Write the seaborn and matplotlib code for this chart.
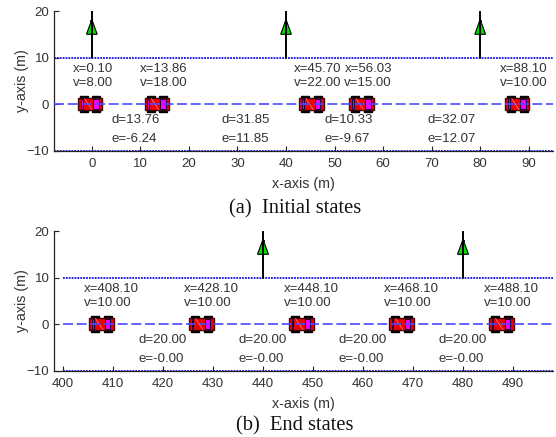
import matplotlib
matplotlib.use("Agg")
import matplotlib.pyplot as plt
from matplotlib.patches import Rectangle, Polygon
import seaborn as sns

W, H = 556, 437

# initial states
car_x_a = [0.10, 13.86, 45.70, 56.03, 88.10]
car_v_a = [8.00, 18.00, 22.00, 15.00, 10.00]
gap_d_a = [13.76, 31.85, 10.33, 32.07]
gap_e_a = [-6.24, 11.85, -9.67, 12.07]
tree_x_a = [0, 40, 80]
xticks_a = [0, 10, 20, 30, 40, 50, 60, 70, 80, 90]

# end states
car_x_b = [408.10, 428.10, 448.10, 468.10, 488.10]
car_v_b = [10.00, 10.00, 10.00, 10.00, 10.00]
gap_d_b = [20.00, 20.00, 20.00, 20.00]
gap_e_b = [-0.00, -0.00, -0.00, -0.00]
tree_x_b = [440, 480]
xticks_b = [400, 410, 420, 430, 440, 450, 460, 470, 480, 490]

yticks = [-10, 0, 10, 20]
TXT = "#333333"

sns.set_theme(style="ticks")
plt.rcParams["font.family"] = ["Liberation Sans", "DejaVu Sans"]


def draw_car(ax, x):
    # body, wheels, windows, all relative to the car position
    for dx in (-2.6, 0.0):
        ax.add_patch(Rectangle((x + dx, -1.75), 1.65, 3.5, fc="black", ec="black", lw=1.0, zorder=3))
    ax.add_patch(Rectangle((x - 3.0, -1.25), 5.05, 2.5, fc="#f00000", ec="#400808", lw=1.0, zorder=4))
    ax.plot([x - 1.6, x - 0.1], [1.2, -1.2], color="#ff9090", lw=0.5, zorder=5)
    ax.add_patch(Rectangle((x - 2.4, -1.15), 0.4, 2.3, fc="#e000e0", ec="#200040", lw=0.8, zorder=5))
    ax.add_patch(Rectangle((x + 0.2, -1.15), 1.2, 2.3, fc="#ff00ff", ec="#200040", lw=0.8, zorder=5))


def draw_tree(ax, x):
    ax.add_patch(Polygon([(x - 1.1, 15), (x + 1.1, 15), (x, 18.2)], closed=True,
                         fc="#00dc00", ec="black", lw=0.8, zorder=3))
    ax.add_patch(Rectangle((x - 0.3, 17.3), 0.6, 0.7, fc="#202020", ec="none", zorder=4))
    sns.lineplot(x=[x, x], y=[10, 20], ax=ax, color="black", lw=1.4, estimator=None, sort=False, zorder=4)


def panel(top, xlim, lane_x0, car_x, car_v, gap_d, gap_e, tree_x, xticks, caption, cap_x, cap_y):
    height = 139.7
    ax = fig.add_axes([53.5 / W, 1 - (top + height) / H, 499.5 / W, height / H])
    ax.set_facecolor("none")
    for y in (10, -10):
        sns.lineplot(x=[lane_x0, xlim[1]], y=[y, y], ax=ax, color="#1010e0", lw=1.3,
                     dashes=(1, 0.6), errorbar=None, zorder=2).lines[-1].set_clip_on(False)
    sns.lineplot(x=[lane_x0, xlim[1]], y=[0, 0], ax=ax, color="#4a4aff", lw=1.2,
                 dashes=(6, 2.2), errorbar=None, zorder=6)
    for t in tree_x:
        draw_tree(ax, t)
    for x, v in zip(car_x, car_v):
        draw_car(ax, x)
        ax.text(x - 4, 7.5, f"x={x:.2f}", fontsize=9.5, color=TXT, va="center", ha="left")
        ax.text(x - 4, 4.5, f"v={v:.2f}", fontsize=9.5, color=TXT, va="center", ha="left")
    for i, (d, e) in enumerate(zip(gap_d, gap_e)):
        mid = (car_x[i] + car_x[i + 1]) / 2 - 3
        ax.text(mid, -3.5, f"d={d:.2f}", fontsize=9.5, color=TXT, va="center", ha="left")
        ax.text(mid, -7.5, f"e={e:.2f}", fontsize=9.5, color=TXT, va="center", ha="left")
    ax.set_xlim(*xlim)
    ax.set_ylim(-10, 20)
    ax.set_xticks(xticks)
    ax.set_yticks(yticks)
    ax.tick_params(direction="in", length=3.6, width=0.8, color="#222222", labelsize=9.5, labelcolor=TXT)
    ax.tick_params(axis="x", pad=5.5)
    ax.tick_params(axis="y", pad=3)
    ax.set_xlabel("x-axis (m)", fontsize=10.3, color=TXT, labelpad=4.5)
    ax.set_ylabel("y-axis (m)", fontsize=10.3, color=TXT, labelpad=-2)
    for s in ("top", "right"):
        ax.spines[s].set_visible(False)
    for s in ("left", "bottom"):
        ax.spines[s].set_linewidth(0.9)
        ax.spines[s].set_color("#222222")
    fig.text(cap_x / W, 1 - cap_y / H, caption, family=["Liberation Serif"], fontsize=14.8,
             color="#111111", ha="center", va="center")


fig = plt.figure(figsize=(W / 100, H / 100), dpi=100)
panel(11, (-7.9, 95), -7.9, car_x_a, car_v_a, gap_d_a, gap_e_a, tree_x_a, xticks_a,
      "(a)  Initial states", 295, 209)
panel(231, (398.1, 498), 400, car_x_b, car_v_b, gap_d_b, gap_e_b, tree_x_b, xticks_b,
      "(b)  End states", 295, 426)
fig.savefig("out.png", dpi=100)
